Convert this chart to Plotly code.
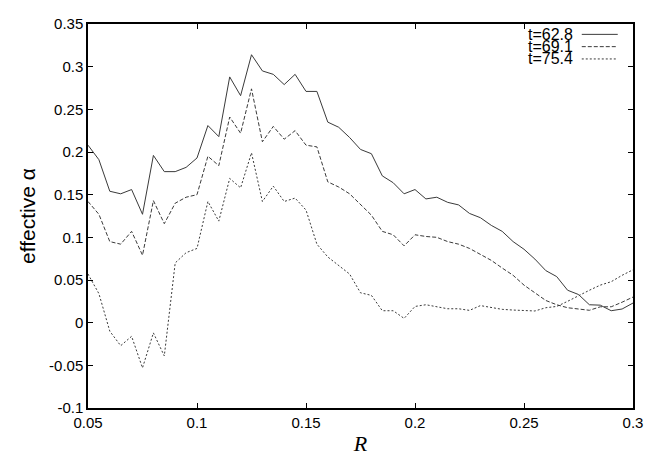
import plotly.graph_objects as go

# radius values, step 0.005
R = [round(0.05 + 0.005 * i, 3) for i in range(51)]

alpha_628 = [0.208, 0.191, 0.154, 0.151, 0.156, 0.127, 0.196, 0.177, 0.177, 0.182,
             0.193, 0.231, 0.218, 0.288, 0.266, 0.314, 0.295, 0.291, 0.279, 0.291,
             0.271, 0.271, 0.235, 0.229, 0.217, 0.203, 0.198, 0.172, 0.164, 0.151,
             0.156, 0.145, 0.147, 0.141, 0.138, 0.128, 0.123, 0.114, 0.107, 0.095,
             0.086, 0.0745, 0.061, 0.054, 0.038, 0.033, 0.021, 0.0205, 0.014, 0.016,
             0.023]
alpha_691 = [0.142, 0.127, 0.095, 0.092, 0.107, 0.079, 0.143, 0.116, 0.140, 0.147,
             0.150, 0.195, 0.184, 0.241, 0.222, 0.274, 0.212, 0.230, 0.215, 0.225,
             0.208, 0.206, 0.165, 0.159, 0.151, 0.138, 0.126, 0.107, 0.103, 0.090,
             0.103, 0.101, 0.100, 0.095, 0.092, 0.087, 0.080, 0.073, 0.064, 0.0555,
             0.044, 0.035, 0.026, 0.021, 0.0175, 0.016, 0.0145, 0.0186, 0.0186, 0.024,
             0.030]
alpha_754 = [0.057, 0.034, -0.010, -0.027, -0.016, -0.053, -0.012, -0.039, 0.070, 0.082,
             0.087, 0.142, 0.119, 0.169, 0.158, 0.199, 0.142, 0.160, 0.142, 0.146,
             0.132, 0.092, 0.077, 0.067, 0.057, 0.035, 0.032, 0.014, 0.014, 0.005,
             0.019, 0.021, 0.019, 0.0163, 0.0163, 0.0144, 0.020, 0.0175, 0.0156, 0.0148,
             0.0144, 0.0137, 0.0175, 0.019, 0.025, 0.032, 0.038, 0.044, 0.048, 0.0555,
             0.062]

labels = ["t=62.8", "t=69.1", "t=75.4"]
dashes = ["solid", "4px,2px", "2px,2px"]

x_ticks = [0.05, 0.1, 0.15, 0.2, 0.25, 0.3]
x_ticktext = ["0.05", "0.1", "0.15", "0.2", "0.25", "0.3"]
y_ticks = [-0.1, -0.05, 0, 0.05, 0.1, 0.15, 0.2, 0.25, 0.3, 0.35]
y_ticktext = ["-0.1", "-0.05", "0", "0.05", "0.1", "0.15", "0.2", "0.25", "0.3", "0.35"]

line_col = "#3a3a3a"
sans = "Liberation Sans, Arial"
fig = go.Figure()
for ys, name, d in zip([alpha_628, alpha_691, alpha_754], labels, dashes):
    fig.add_trace(go.Scatter(x=R, y=ys, mode="lines", name=name,
                             line=dict(color=line_col, width=1, dash=d),
                             showlegend=False))

# gnuplot-style key: text on the left, sample line on the right
for i, (name, d) in enumerate(zip(labels, dashes)):
    yk = 0.973 - i * 0.032
    fig.add_annotation(xref="paper", yref="paper", x=0.894, y=yk, text=name,
                       showarrow=False, xanchor="right", yanchor="middle",
                       font=dict(family=sans, size=16, color="black"))
    fig.add_shape(type="line", xref="paper", yref="paper", x0=0.906, x1=0.972,
                  y0=yk, y1=yk, line=dict(color=line_col, width=1, dash=d))

axis_common = dict(showline=True, linecolor="black", linewidth=1.5, mirror="allticks",
                   ticks="inside", ticklen=5, tickcolor="black", showgrid=False,
                   zeroline=False, tickfont=dict(family=sans, size=15, color="black"))

fig.update_xaxes(range=[0.05, 0.3], tickvals=x_ticks, ticktext=x_ticktext,
                 title=dict(text="<i>R</i>", font=dict(family="Liberation Serif, Times New Roman", size=22, color="black"), standoff=6),
                 **axis_common)
fig.update_yaxes(range=[-0.1, 0.35], tickvals=y_ticks, ticktext=y_ticktext,
                 title=dict(text="effective α", font=dict(family=sans, size=21, color="black"), standoff=8),
                 **axis_common)

# the page adds an 8px body margin, so the figure is shifted by 8px
fig.update_layout(width=646, height=455, plot_bgcolor="white", paper_bgcolor="white",
                  margin=dict(l=80, r=21, t=7, b=55))

fig.write_html("out.html")
